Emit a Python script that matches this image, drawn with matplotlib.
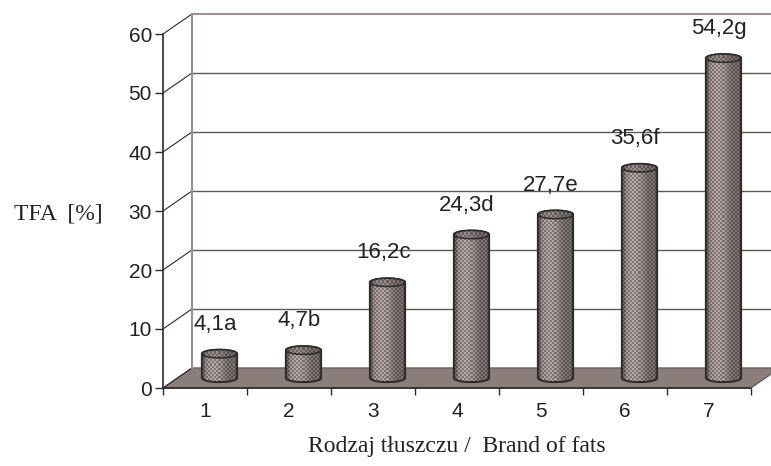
import numpy as np
import matplotlib
matplotlib.use('Agg')
import matplotlib.pyplot as plt
from matplotlib.path import Path
from matplotlib.patches import PathPatch, Polygon

# ---- DATA ----
categories = [1, 2, 3, 4, 5, 6, 7]
tfa_values = [4.1, 4.7, 16.2, 24.3, 27.7, 35.6, 54.2]
value_labels = ['4,1a', '4,7b', '16,2c', '24,3d', '27,7e', '35,6f', '54,2g']
y_ticks = [0, 10, 20, 30, 40, 50, 60]

# ---- 3D look (oblique offset of the back wall) ----
DX = 0.345   # depth shift in category units
DY = 3.4     # depth shift in value units
HALF_W = 0.21
ELL_B = 0.7

FLOOR_COLOR = '#8b7e7a'
WALL_COLOR = '#9c918e'
GRID_COLOR = '#5e5858'
EDGE_COLOR = '#2e2a2a'
TEXT_COLOR = '#222222'

plt.rcParams['font.family'] = ['Liberation Sans', 'DejaVu Sans']
SERIF = ['Liberation Serif', 'DejaVu Serif']

fig = plt.figure(figsize=(7.71, 4.66), dpi=100)
ax = fig.add_axes([163 / 771, 0, 608 / 771, 1])
ax.set_xlim(0.5, 0.5 + 608 / 84)
ax.set_ylim(-78 / 5.9, 388 / 5.9)
ax.set_facecolor('none')

for s in ['top', 'right']:
    ax.spines[s].set_visible(False)
ax.spines['left'].set_position(('data', 0.5))
ax.spines['left'].set_bounds(0, 60)
ax.spines['bottom'].set_position(('data', 0))
ax.spines['bottom'].set_bounds(0.5, 7.5)
for s in ['left', 'bottom']:
    ax.spines[s].set_color(EDGE_COLOR)
    ax.spines[s].set_linewidth(1.2)

ax.set_yticks(y_ticks)
ax.set_yticklabels([str(t) for t in y_ticks], fontsize=15, color=TEXT_COLOR)
ax.set_xticks(np.arange(0.5, 8.0, 1.0))
ax.set_xticklabels([])
ax.set_xticks(categories, minor=True)
ax.set_xticklabels([str(c) for c in categories], minor=True, fontsize=15, color=TEXT_COLOR)
ax.tick_params(axis='y', length=6, width=1, color=EDGE_COLOR, pad=2)
ax.tick_params(axis='x', which='major', length=5, width=1, color=EDGE_COLOR)
ax.tick_params(axis='x', which='minor', length=0, pad=10)

# floor
floor = Polygon([(0.5, 0), (7.5, 0), (7.5 + DX, DY), (0.5 + DX, DY)], closed=True,
                facecolor=FLOOR_COLOR, edgecolor='#5a5252', lw=0.8, zorder=1)
ax.add_patch(floor)

# back wall frame and gridlines
x_back = 0.5 + DX
x_end = 8.2
for t in y_ticks:
    ax.plot([0.5, x_back], [t, t + DY], color=EDGE_COLOR, lw=0.8, zorder=2)
    if t > 0:
        col = WALL_COLOR if t == 60 else GRID_COLOR
        lw = 1.5 if t == 60 else 1.0
        ax.plot([x_back, x_end], [t + DY, t + DY], color=col, lw=lw, zorder=2)
ax.plot([x_back, x_back], [DY, 60 + DY], color=WALL_COLOR, lw=1.5, zorder=2)


def ellipse_pts(cx, cy, a, b, t0, t1, n=40):
    t = np.linspace(t0, t1, n)
    return np.column_stack([cx + a * np.cos(t), cy + b * np.sin(t)])


def textured(nx, ny, base, amp):
    # horizontal shading across the cylinder plus a small checker texture
    u = np.linspace(-1, 1, nx)
    shade = base + amp * np.cos((u + 0.35) * 1.6) ** 2
    shade = np.where(np.abs(u) > 0.85, shade - 0.10, shade)
    jj, ii = np.meshgrid(np.arange(nx), np.arange(ny))
    checker = ((jj // 2 + ii // 2) % 2).astype(float)
    lum = shade[None, :] * (0.78 + 0.34 * checker)
    return np.stack([lum * 1.05, lum * 0.97, lum * 0.96], axis=-1).clip(0, 1)


def cylinder(cx, y0, h, zorder=3):
    y1 = y0 + h
    bottom = ellipse_pts(cx, y0, HALF_W, ELL_B, np.pi, 2 * np.pi)
    top_back = ellipse_pts(cx, y1, HALF_W, ELL_B, 0, np.pi)
    outline = np.vstack([bottom, top_back, bottom[:1]])

    p0 = ax.transData.transform((cx - HALF_W, y0 - ELL_B))
    p1 = ax.transData.transform((cx + HALF_W, y1 + ELL_B))
    nx = max(int(round(p1[0] - p0[0])), 2)
    ny = max(int(round(p1[1] - p0[1])), 2)
    im = ax.imshow(textured(nx, ny, 0.42, 0.2),
                   extent=(cx - HALF_W, cx + HALF_W, y0 - ELL_B, y1 + ELL_B),
                   origin='lower', interpolation='nearest', aspect='auto', zorder=zorder)
    body = PathPatch(Path(outline, closed=True), facecolor='none',
                     edgecolor=EDGE_COLOR, lw=1.4, zorder=zorder + 0.1)
    ax.add_patch(body)
    im.set_clip_path(body)

    top = ellipse_pts(cx, y1, HALF_W, ELL_B, 0, 2 * np.pi, 60)
    top_patch = Polygon(top, closed=True, facecolor='none', edgecolor=EDGE_COLOR,
                        lw=1.1, zorder=zorder + 0.3)
    ax.add_patch(top_patch)
    im_top = ax.imshow(textured(nx, max(int(ny * 2 * ELL_B / (h + 2 * ELL_B)), 2), 0.40, 0.12),
                       extent=(cx - HALF_W, cx + HALF_W, y1 - ELL_B, y1 + ELL_B),
                       origin='lower', interpolation='nearest', aspect='auto',
                       zorder=zorder + 0.2)
    im_top.set_clip_path(top_patch)


for c, v, lab in zip(categories, tfa_values, value_labels):
    cylinder(c + DX / 2, DY / 2, v)
    ax.text(c + 0.12, v + DY / 2 + 5.0, lab, ha='center', va='center',
            fontsize=16, color=TEXT_COLOR, zorder=6)

ax.set_ylim(-78 / 5.9, 388 / 5.9)
ax.set_xlim(0.5, 0.5 + 608 / 84)

ax.text(-0.75, 28.6, 'TFA  [%]', ha='center', va='baseline', fontsize=17,
        family=SERIF, color=TEXT_COLOR, clip_on=False)
ax.text(4.0, -10.9, 'Rodzaj tłuszczu /  Brand of fats', ha='center', va='baseline',
        fontsize=17, family=SERIF, color=TEXT_COLOR)

fig.savefig('out.png', dpi=100)
